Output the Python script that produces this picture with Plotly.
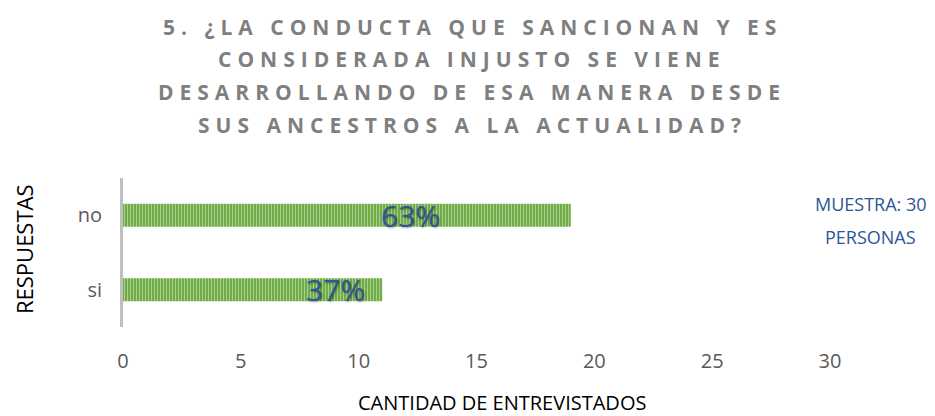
import plotly.graph_objects as go

categories = ["si", "no"]
values = [11, 19]
pct_labels = ["37%", "63%"]
label_x = [9.0, 12.2]
title_lines = [
    "5. ¿LA CONDUCTA QUE SANCIONAN Y ES",
    "CONSIDERADA INJUSTO SE VIENE",
    "DESARROLLANDO DE ESA MANERA DESDE",
    "SUS ANCESTROS A LA ACTUALIDAD?",
]
x_ticks = [0, 5, 10, 15, 20, 25, 30]
note_lines = ["MUESTRA: 30", "PERSONAS"]
x_title = "CANTIDAD DE ENTREVISTADOS"
y_title = "RESPUESTAS"

FONT = "Open Sans"
BLUE = "#2F5597"

W, H = 935, 416
L, R, T, B = 123, 105, 178, 89
pw, ph = W - L - R, H - T - B


def px_to_paper(px, py):
    return (px - L) / pw, 1 - (py - T) / ph


fig = go.Figure()
fig.add_trace(go.Bar(
    y=categories, x=values, orientation="h",
    marker=dict(color="#70AD47", line=dict(width=0),
                pattern=dict(shape="|", fgcolor="#E2F0D9", size=3, solidity=0.35)),
    hoverinfo="skip",
))

annotations = []
for c, lx, t in zip(categories, label_x, pct_labels):
    annotations.append(dict(x=lx, y=c, xref="x", yref="y", text=t, showarrow=False,
                            font=dict(family=FONT, size=30, color=BLUE,
                                      shadow="1px 1px 2px rgba(0,0,0,0.35)")))

title_y = [27, 59, 92, 125]
for ln, ty in zip(title_lines, title_y):
    ax, ay = px_to_paper(472, ty)
    annotations.append(dict(x=ax, y=ay, xref="paper", yref="paper",
                            text="<b>" + ln + "</b>", showarrow=False,
                            xanchor="center", yanchor="middle",
                            font=dict(family=FONT, size=21, color="#7F7F7F")))

for ln, ny in zip(note_lines, [204, 237]):
    ax, ay = px_to_paper(871, ny)
    annotations.append(dict(x=ax, y=ay, xref="paper", yref="paper", text=ln,
                            showarrow=False, xanchor="center", yanchor="middle",
                            font=dict(family=FONT, size=18, color=BLUE)))

ax, ay = px_to_paper(502, 402)
annotations.append(dict(x=ax, y=ay, xref="paper", yref="paper", text=x_title,
                        showarrow=False, xanchor="center", yanchor="middle",
                        font=dict(family=FONT, size=20, color="#000000")))
ax, ay = px_to_paper(24, 249)
annotations.append(dict(x=ax, y=ay, xref="paper", yref="paper", text=y_title,
                        showarrow=False, xanchor="center", yanchor="middle", textangle=-90,
                        font=dict(family=FONT, size=22, color="#000000")))

fig.update_layout(
    width=W, height=H,
    margin=dict(l=L, r=R, t=T, b=B, autoexpand=False),
    paper_bgcolor="white", plot_bgcolor="white",
    bargap=0.69,
    showlegend=False,
    annotations=annotations,
    font=dict(family=FONT, color="#595959"),
    xaxis=dict(range=[0, 30], tickvals=x_ticks, showgrid=False, zeroline=False,
               showline=False, tickfont=dict(size=20, color="#595959"),
               ticks="outside", ticklen=16, tickcolor="rgba(0,0,0,0)", automargin=False),
    yaxis=dict(showgrid=False, zeroline=False, showline=True, linecolor="#BFBFBF",
               linewidth=3, tickfont=dict(size=20, color="#595959"),
               ticks="outside", ticklen=14, tickcolor="rgba(0,0,0,0)", automargin=False),
)

post = """
document.body.style.margin = '0';
document.body.style.padding = '0';
var gd = document.getElementById('{plot_id}');
var titles = %s;
gd.querySelectorAll('.annotation-text').forEach(function(e){
  var t = e.textContent;
  if (titles.indexOf(t) >= 0) { e.style.letterSpacing = '6px'; }
});
""" % str(title_lines).replace("'", '"')

fig.write_html("out.html", post_script=post, config={"displayModeBar": False})
